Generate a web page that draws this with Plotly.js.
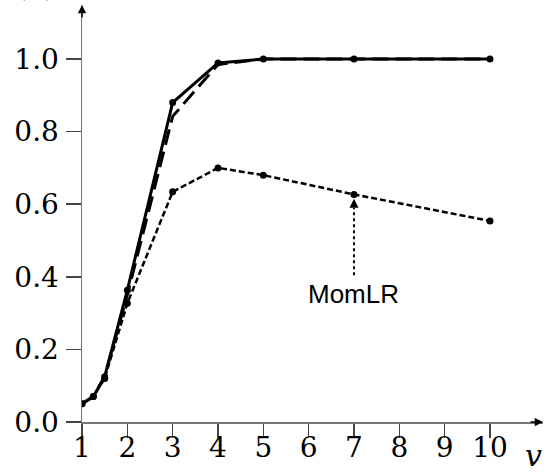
<!DOCTYPE html>
<html>
<head>
<meta charset="utf-8">
<script src="https://cdn.plot.ly/plotly-3.0.1.min.js"></script>
<style>html,body{margin:0;padding:0;background:#fff;}#chart{width:556px;height:472px;}</style>
</head>
<body>
<div id="chart"></div>
<script>
// Data
const vValues = [1, 1.25, 1.5, 2, 3, 4, 5, 7, 10];
const solidSeries = [0.05, 0.07, 0.125, 0.363, 0.88, 0.989, 1.0, 1.0, 1.0];
const longDashX = [1, 1.25, 1.5, 2, 3, 4, 5, 7, 10];
const longDashSeries = [0.05, 0.07, 0.125, 0.35, 0.842, 0.985, 1.0, 1.0, 1.0];
const momLRSeries = [0.05, 0.07, 0.12, 0.327, 0.634, 0.70, 0.68, 0.627, 0.554];
const xTicks = [1, 2, 3, 4, 5, 6, 7, 8, 9, 10];
const yTicks = [0.0, 0.2, 0.4, 0.6, 0.8, 1.0];
const annotationLabel = "MomLR";
const annotationX = 7;
const annotationTail = 0.404;
const annotationHead = 0.615;
const panelLabel = "(a)";
const xLabel = "v";

const serif = 'DejaVu Serif, Liberation Serif, serif';
const sans = 'Liberation Sans, Arial, sans-serif';

const traces = [
  {x: longDashX, y: longDashSeries, mode: 'lines', line: {color: '#000', width: 3, dash: '16px,7px'}, hoverinfo: 'skip'},
  {x: vValues, y: momLRSeries, mode: 'lines+markers', line: {color: '#000', width: 2.5, dash: '6px,3px'}, marker: {color: '#000', size: 7}},
  {x: vValues, y: solidSeries, mode: 'lines+markers', line: {color: '#000', width: 3}, marker: {color: '#000', size: 7}}
];

const mL = 82, mR = 13, mT = 5, mB = 50;
const plotW = 556 - mL - mR, plotH = 472 - mT - mB;
const xMax = 1 + plotW / 45.33, yMax = plotH / 363;

const layout = {
  width: 556, height: 472,
  margin: {l: mL, r: mR, t: mT, b: mB, pad: 0},
  showlegend: false,
  paper_bgcolor: '#fff', plot_bgcolor: '#fff',
  xaxis: {
    range: [1, xMax], tickvals: xTicks, ticktext: xTicks.map(String),
    showgrid: false, zeroline: false, showline: true, linecolor: '#777', linewidth: 1.5,
    ticks: 'outside', ticklen: 14, tickwidth: 1.5, tickcolor: '#444',
    tickfont: {family: serif, size: 28, color: '#000'}, ticklabelstandoff: -14
  },
  yaxis: {
    range: [0, yMax], tickvals: yTicks, ticktext: yTicks.map(v => v.toFixed(1)),
    showgrid: false, zeroline: false, showline: true, linecolor: '#777', linewidth: 1.5,
    ticks: 'outside', ticklen: 15, tickwidth: 1.5, tickcolor: '#444',
    tickfont: {family: serif, size: 28, color: '#000'}, ticklabelstandoff: 1
  },
  shapes: [
    {type: 'line', xref: 'x', yref: 'y', x0: annotationX, x1: annotationX, y0: annotationTail, y1: annotationHead - 0.025,
     line: {color: '#000', width: 2, dash: 'dot'}}
  ],
  annotations: [
    {x: 1, y: yMax, xref: 'x', yref: 'y', ax: 0, ay: 14, showarrow: true, arrowhead: 2, arrowsize: 1.1, arrowwidth: 1.5, arrowcolor: '#000', text: ''},
    {x: xMax, y: 0, xref: 'x', yref: 'y', ax: -14, ay: 0, showarrow: true, arrowhead: 2, arrowsize: 1.1, arrowwidth: 1.5, arrowcolor: '#000', text: ''},
    {x: annotationX, y: annotationHead, xref: 'x', yref: 'y', ax: 0, ay: 10, showarrow: true, arrowhead: 2, arrowsize: 1.2, arrowwidth: 1.5, arrowcolor: '#000', text: ''},
    {x: annotationX, y: annotationTail, xref: 'x', yref: 'y', yanchor: 'top', yshift: -2, showarrow: false, text: annotationLabel,
     font: {family: sans, size: 26, color: '#000'}},
    {x: (533 - mL) / plotW, y: (472 - mB - 455) / plotH, xref: 'paper', yref: 'paper', xanchor: 'center', yanchor: 'middle',
     showarrow: false, text: '<i>' + xLabel + '</i>', font: {family: serif, size: 30, color: '#000'}},
    {x: -0.1, y: 1, xref: 'paper', yref: 'paper', xanchor: 'center', yanchor: 'bottom', yshift: 0, showarrow: false, text: panelLabel,
     font: {family: serif, size: 30, color: '#000'}}
  ]
};

Plotly.newPlot('chart', traces, layout, {displayModeBar: false, staticPlot: true});
</script>
</body>
</html>
